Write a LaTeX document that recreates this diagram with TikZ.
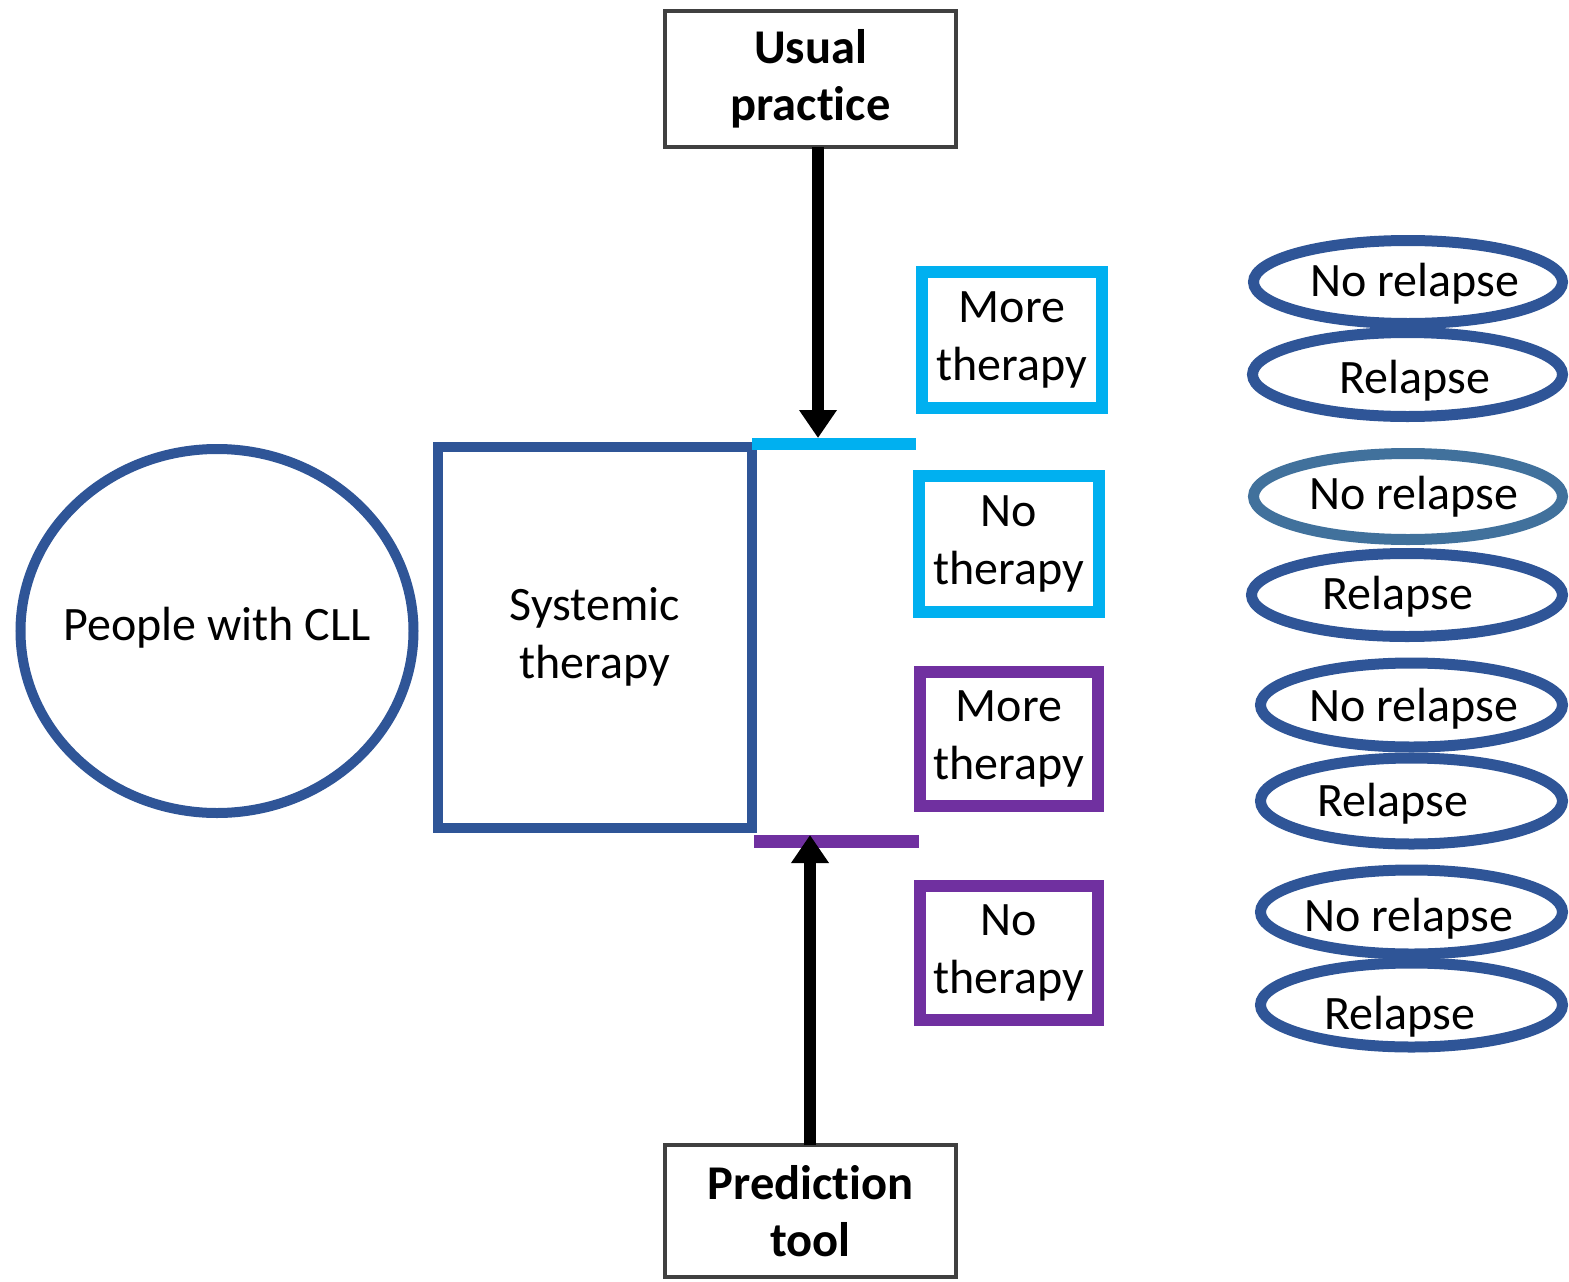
\documentclass[tikz,border=0pt]{standalone}
\usepackage{fontspec}
\setmainfont{Carlito}[Ligatures={NoCommon}]
\usetikzlibrary{arrows.meta,shapes.geometric,calc}

\definecolor{navy}{HTML}{2F5597}
\definecolor{skyblue}{HTML}{00B0F0}
\definecolor{violet}{HTML}{7030A0}
\definecolor{steel}{HTML}{41719C}
\definecolor{boxgray}{HTML}{404040}

\begin{document}
\begin{tikzpicture}[x=1pt,y=-1pt,
  txt/.style={font=\fontsize{48}{58}\selectfont, align=center, inner sep=0pt},
  boldtxt/.style={font=\fontsize{48.5}{57}\selectfont\bfseries, align=center, inner sep=0pt},
  framebox/.style={draw=boxgray, line width=4pt, rectangle, inner sep=0pt},
  optbox/.style={rectangle, line width=12pt, inner sep=0pt},
  outcome/.style={ellipse, draw=navy, line width=11pt, inner sep=0pt},
  txtbase/.style={font=\fontsize{48}{58}\selectfont, inner sep=0pt, anchor=base},
  bigarrow/.style={line width=12pt, -{Triangle[width=36pt,length=28pt]}}
]
\useasboundingbox (0,0) rectangle (1569,1282);

% population and treatment
\node[ellipse, draw=navy, line width=10pt, minimum width=393pt, minimum height=364pt,
      inner sep=0pt] (cll) at (217,631) {};
\node[txt] (cllt) at (217,628) {People with CLL};
\node[rectangle, draw=navy, line width=10pt, minimum width=314pt, minimum height=381pt,
      txt] (sys) at (595,637) {Systemic\\therapy};

% decision-making strategies
\node[framebox, minimum width=291pt, minimum height=136pt, boldtxt] (usual) at (810.5,79) {Usual\\practice};
\node[framebox, minimum width=291pt, minimum height=132pt, boldtxt] (pred) at (810.5,1211) {Prediction\\tool};

% branch bars
\coordinate (cyanL) at (752,444);
\coordinate (cyanR) at (916,444);
\coordinate (violL) at (754,841.5);
\coordinate (violR) at (919,841.5);
\draw[skyblue, line width=12pt] (cyanL) -- (cyanR);
\draw[violet, line width=13pt] (violL) -- (violR);

\coordinate (usualfoot) at (818,147);
\coordinate (cyantop) at (818,438);
\coordinate (predtop) at (810,1145);
\coordinate (violbot) at (810,835);
\draw[bigarrow] (usualfoot) -- (cyantop);
\draw[bigarrow] (predtop) -- (violbot);

% options after therapy
\node[optbox, draw=skyblue, minimum width=180pt, minimum height=136pt, txt] (c1) at (1012,340) {More\\therapy};
\node[optbox, draw=skyblue, minimum width=180pt, minimum height=136pt, txt] (c2) at (1009,544) {No\\therapy};
\node[optbox, draw=violet, minimum width=178pt, minimum height=134pt, txt] (p1) at (1009,739) {More\\therapy};
\node[optbox, draw=violet, minimum width=178pt, minimum height=134pt, txt] (p2) at (1009,953) {No\\therapy};

% outcomes
\node[outcome, minimum width=309pt, minimum height=83pt] (o1) at (1408,282) {};
\node[outcome, minimum width=310pt, minimum height=84pt] (o2) at (1407.5,374.5) {};
\node[outcome, draw=steel, minimum width=309pt, minimum height=86pt] (o3) at (1408,496.5) {};
\node[outcome, minimum width=311pt, minimum height=83pt] (o4) at (1407,595) {};
\node[outcome, minimum width=302pt, minimum height=84pt] (o5) at (1411.5,705) {};
\node[outcome, minimum width=302pt, minimum height=86pt] (o6) at (1411.5,801) {};
\node[outcome, minimum width=302pt, minimum height=84pt] (o7) at (1411.5,912) {};
\node[outcome, minimum width=302pt, minimum height=84pt] (o8) at (1411.5,1005) {};

\node[txtbase] (t1) at (1415,296) {No relapse};
\node[txtbase] (t2) at (1415,393) {Relapse};
\node[txtbase] (t3) at (1414,509) {No relapse};
\node[txtbase] (t4) at (1398,609) {Relapse};
\node[txtbase] (t5) at (1414,721) {No relapse};
\node[txtbase] (t6) at (1393,816) {Relapse};
\node[txtbase] (t7) at (1409,931) {No relapse};
\node[txtbase] (t8) at (1400,1029) {Relapse};
\end{tikzpicture}
\end{document}
